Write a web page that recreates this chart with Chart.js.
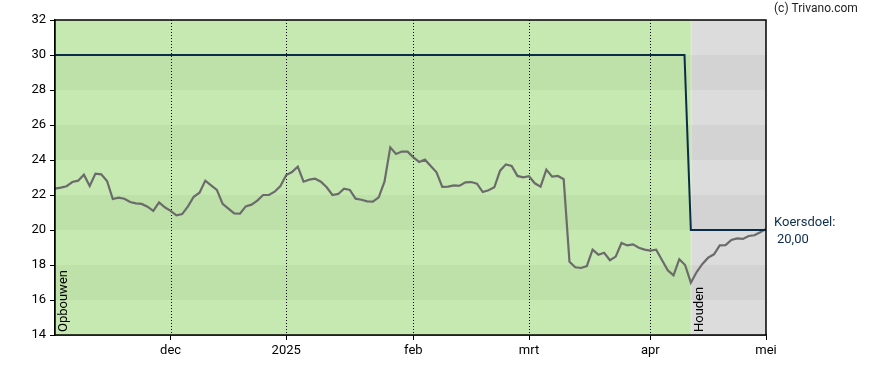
<!DOCTYPE html>
<html>
<head>
<meta charset="utf-8">
<script src="https://cdn.jsdelivr.net/npm/chart.js@4.4.1/dist/chart.umd.min.js"></script>
<style>
html,body{margin:0;padding:0;background:#fff;}
#wrap{position:relative;width:888px;height:370px;}
</style>
</head>
<body>
<div id="wrap"><canvas id="c" width="888" height="370"></canvas></div>
<script>
// trading-day index of each price point
const priceValues = [
22.36,22.42,22.50,22.74,22.82,23.16,22.51,23.22,23.18,22.80,
21.77,21.85,21.79,21.60,21.52,21.49,21.33,21.09,21.58,21.30,
21.09,20.84,20.91,21.35,21.90,22.13,22.82,22.55,22.29,21.49,
21.22,20.95,20.93,21.35,21.45,21.68,22.00,22.00,22.19,22.51,
23.14,23.31,23.62,22.76,22.88,22.93,22.76,22.44,22.00,22.06,
22.36,22.29,21.79,21.73,21.64,21.62,21.87,22.76,24.72,24.34,
24.48,24.48,24.15,23.89,24.02,23.66,23.30,22.46,22.48,22.55,
22.53,22.72,22.74,22.65,22.17,22.27,22.44,23.39,23.75,23.66,
23.09,23.01,23.07,22.67,22.48,23.45,23.05,23.09,22.90,18.19,
17.87,17.83,17.94,18.88,18.59,18.70,18.27,18.48,19.26,19.12,
19.18,18.99,18.88,18.82,18.88,18.29,17.70,17.41,18.33,18.00,
16.99,17.60,18.06,18.42,18.61,19.12,19.14,19.43,19.52,19.49,
19.66,19.70,19.87,20.06
];
const targetDays = [0, 108.9, 110, 123];
const targetValues = [30, 30, 20, 20];
const monthTickDays = [20, 40, 62, 82, 103, 123];
const monthTickLabels = ['dec', '2025', 'feb', 'mrt', 'apr', 'mei'];
const yTicks = [14,16,18,20,22,24,26,28,30,32];
const phaseStartDays = [0, 110];
const phaseLabels = ['Opbouwen', 'Houden'];
const targetLabel = 'Koersdoel:';
const targetText = '20,00';
const lastDay = 123;

const FONT = 'Roboto, "Liberation Sans", Arial, sans-serif';

const bgPlugin = {
  id: 'bg',
  beforeDatasetsDraw(chart) {
    const {ctx, chartArea: a, scales: {x, y}} = chart;
    ctx.save();
    const xs = [x.getPixelForValue(phaseStartDays[0]), x.getPixelForValue(phaseStartDays[1]), x.getPixelForValue(lastDay)];
    const palettes = [['#c6e9b2', '#bee1a9'], ['#dcdcdc', '#d3d3d3']];
    for (let p = 0; p < 2; p++) {
      for (let i = 0; i < yTicks.length - 1; i++) {
        const yt = y.getPixelForValue(yTicks[i + 1]);
        const yb = y.getPixelForValue(yTicks[i]);
        ctx.fillStyle = palettes[p][i % 2];
        ctx.fillRect(xs[p], yt, xs[p + 1] - xs[p], yb - yt);
      }
    }
    // light divider line
    ctx.fillStyle = 'rgba(255,255,255,0.25)';
    ctx.fillRect(xs[1], a.top, 1, a.bottom - a.top);
    // dotted month lines
    ctx.strokeStyle = '#000';
    ctx.lineWidth = 1;
    ctx.setLineDash([1, 2]);
    monthTickDays.forEach(d => {
      if (d >= lastDay) return;
      const px = Math.round(x.getPixelForValue(d)) + 0.5;
      ctx.beginPath();
      ctx.moveTo(px, a.top);
      ctx.lineTo(px, a.bottom);
      ctx.stroke();
    });
    ctx.setLineDash([]);
    // phase labels
    ctx.fillStyle = '#000';
    ctx.font = '13px ' + FONT;
    ctx.textAlign = 'left';
    ctx.textBaseline = 'middle';
    phaseStartDays.forEach((d, i) => {
      const px = x.getPixelForValue(d);
      ctx.save();
      ctx.translate(px + 9, a.bottom - 3);
      ctx.rotate(-Math.PI / 2);
      ctx.fillText(phaseLabels[i], 0, 0);
      ctx.restore();
    });
    ctx.restore();
  },
  afterDraw(chart) {
    const {ctx, chartArea: a, scales: {x, y}} = chart;
    ctx.save();
    ctx.strokeStyle = '#000';
    ctx.lineWidth = 1.5;
    ctx.strokeRect(a.left, a.top, a.right - a.left, a.bottom - a.top);
    ctx.font = '12px ' + FONT;
    ctx.fillStyle = '#222';
    ctx.textAlign = 'left';
    ctx.textBaseline = 'middle';
    ctx.fillText('(c) Trivano.com', 774, 9);
    ctx.fillStyle = '#0d2e4d';
    ctx.font = '13px ' + FONT;
    const ty = y.getPixelForValue(targetValues[targetValues.length - 1]);
    ctx.fillText(targetLabel, a.right + 8, ty - 7);
    ctx.fillText(targetText, a.right + 11, ty + 10);
    ctx.restore();
  }
};

new Chart(document.getElementById('c'), {
  type: 'scatter',
  data: {
    datasets: [
      {
        data: targetDays.map((d, i) => ({x: d, y: targetValues[i]})),
        showLine: true,
        borderColor: '#0b2c48',
        borderWidth: 2,
        pointRadius: 0,
        tension: 0,
        order: 1
      },
      {
        data: priceValues.map((v, i) => ({x: i, y: v})),
        showLine: true,
        borderColor: '#6b6b6b',
        borderWidth: 2.2,
        pointRadius: 0,
        tension: 0,
        order: 2
      }
    ]
  },
  plugins: [bgPlugin],
  options: {
    responsive: false,
    animation: false,
    layout: {padding: {left: 0, right: 122, top: 20, bottom: 0}},
    plugins: {legend: {display: false}, tooltip: {enabled: false}},
    scales: {
      x: {
        type: 'linear',
        min: 0,
        max: lastDay,
        afterBuildTicks(scale) { scale.ticks = monthTickDays.map(v => ({value: v})); },
        afterFit(scale) { scale.height = 35; },
        ticks: {
          autoSkip: false,
          maxRotation: 0,
          color: '#000',
          font: {family: FONT, size: 13},
          padding: 3,
          callback(v) { const i = monthTickDays.indexOf(v); return i >= 0 ? monthTickLabels[i] : ''; }
        },
        grid: {display: true, drawOnChartArea: false, drawTicks: true, tickLength: 5, color: '#000'},
        border: {display: true, color: '#000', width: 1.5}
      },
      y: {
        type: 'linear',
        min: 14,
        max: 32,
        afterBuildTicks(scale) { scale.ticks = yTicks.map(v => ({value: v})); },
        afterFit(scale) { scale.width = 55; },
        ticks: {
          color: '#000',
          font: {family: FONT, size: 13},
          padding: 4
        },
        grid: {display: true, drawOnChartArea: false, drawTicks: true, tickLength: 5, color: '#000'},
        border: {display: true, color: '#000', width: 1.5}
      }
    }
  }
});
</script>
</body>
</html>
